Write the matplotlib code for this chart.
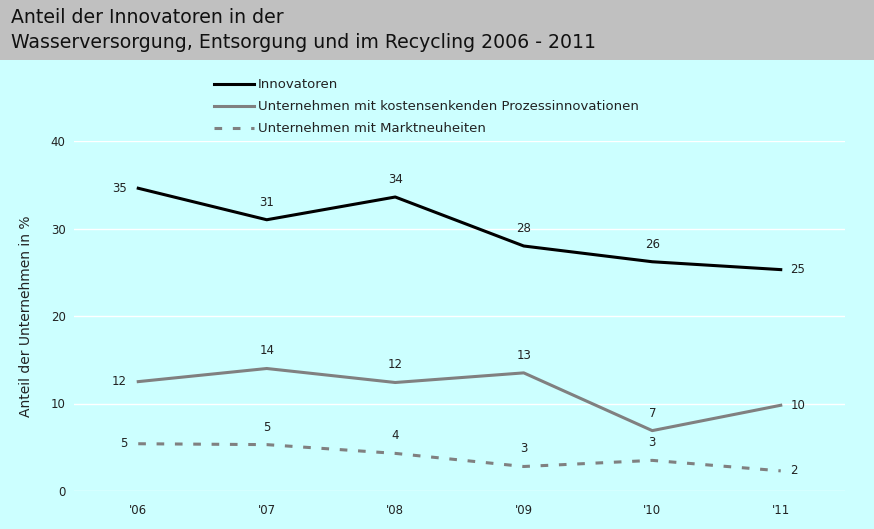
import matplotlib
matplotlib.use("Agg")
import matplotlib.pyplot as plt
from matplotlib.patches import Rectangle

years = ["'06", "'07", "'08", "'09", "'10", "'11"]
innovatoren = [34.6, 31.0, 33.6, 28.0, 26.2, 25.3]
prozess = [12.5, 14.0, 12.4, 13.5, 6.9, 9.8]
markt = [5.4, 5.3, 4.3, 2.8, 3.5, 2.3]
innov_labels = ["35", "31", "34", "28", "26", "25"]
prozess_labels = ["12", "14", "12", "13", "7", "10"]
markt_labels = ["5", "5", "4", "3", "3", "2"]
series_names = ["Innovatoren",
                "Unternehmen mit kostensenkenden Prozessinnovationen",
                "Unternehmen mit Marktneuheiten"]
title = "Anteil der Innovatoren in der\nWasserversorgung, Entsorgung und im Recycling 2006 - 2011"
ylabel = "Anteil der Unternehmen in %"

W, H = 874, 529
fig = plt.figure(figsize=(W / 100, H / 100), dpi=100)
fig.patch.set_facecolor("#ccffff")
fig.patches.append(Rectangle((0, 1 - 60 / H), 1, 60 / H, transform=fig.transFigure,
                             facecolor="#c0c0c0", edgecolor="none", zorder=0))
fig.text(11 / W, 1 - 30 / H, title, ha="left", va="center", fontsize=13.6,
         color="#111111", linespacing=1.42)

ax = fig.add_axes([74 / W, 1 - 491 / H, (845 - 74) / W, (491 - 141) / H])
ax.set_facecolor("#ccffff")
x = list(range(len(years)))
ax.set_xlim(-0.5, len(years) - 0.5)
ax.set_ylim(0, 40)
ax.set_yticks([0, 10, 20, 30, 40])
ax.set_xticks(x)
ax.set_xticklabels(years)
ax.yaxis.grid(True, color="white", lw=1)
ax.set_axisbelow(True)
for s in ax.spines.values():
    s.set_visible(False)
ax.tick_params(length=0, labelsize=8.5, colors="#222222")
ax.tick_params(axis="y", pad=6)
ax.tick_params(axis="x", pad=9)
ax.set_ylabel(ylabel, fontsize=10, color="#222222", labelpad=13)

l1, = ax.plot(x, innovatoren, color="black", lw=2.2, clip_on=False, label=series_names[0])
l2, = ax.plot(x, prozess, color="#808080", lw=2.2, clip_on=False, label=series_names[1])
l3, = ax.plot(x, markt, color="#808080", lw=2.2, dashes=(2.5, 3.5), clip_on=False, label=series_names[2])

def annotate(vals, labels):
    n = len(vals)
    for i, (v, t) in enumerate(zip(vals, labels)):
        if i == 0:
            ax.annotate(t, (i, v), xytext=(-8, 0), textcoords="offset points",
                        ha="right", va="center", fontsize=8.5, color="#222222")
        elif i == n - 1:
            ax.annotate(t, (i, v), xytext=(7, 0), textcoords="offset points",
                        ha="left", va="center", fontsize=8.5, color="#222222")
        else:
            ax.annotate(t, (i, v), xytext=(0, 8), textcoords="offset points",
                        ha="center", va="bottom", fontsize=8.5, color="#222222")

annotate(innovatoren, innov_labels)
annotate(prozess, prozess_labels)
annotate(markt, markt_labels)

fig.legend(handles=[l1, l2, l3], loc="upper left", bbox_to_anchor=(209 / W, 1 - 73 / H),
           frameon=False, fontsize=9.5, handlelength=3.0, handletextpad=0.3,
           labelspacing=0.68, borderaxespad=0, labelcolor="#222222")

fig.savefig("out.png", dpi=100, facecolor=fig.get_facecolor())
